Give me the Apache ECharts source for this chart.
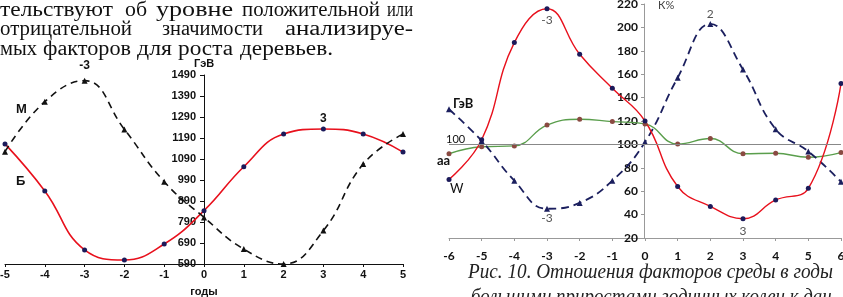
<!DOCTYPE html>
<html>
<head>
<meta charset="utf-8">
<script src="https://cdn.jsdelivr.net/npm/echarts@6/dist/echarts.min.js"></script>
<style>
html,body{margin:0;padding:0;background:#fff;}
#chart{width:843px;height:297px;}
</style>
</head>
<body>
<div id="chart"></div>
<script>
// левый график: Б и М, ГэВ
var yearsL = [-5, -4, -3, -2, -1, 0, 1, 2, 3, 4, 5];
var valB = [1162, 938, 657, 609, 685, 844, 1053, 1209, 1233, 1209, 1123];
var valM = [1125, 1363, 1463, 1231, 982, 812, 661, 590, 749, 1066, 1209];

// правый график: W, ГэВ, aa в К%
var yearsR = [-6, -5, -4, -3, -2, -1, 0, 1, 2, 3, 4, 5, 6];
var valW = [70, 104, 187, 216, 177, 148, 120, 64, 47, 36.5, 52.5, 62.5, 152];
var valGev = [130, 103, 69, 45, 50, 69, 102, 157, 203, 164, 113, 94, 68];
var valAa = [92, 98, 98.7, 116.5, 121.5, 119.5, 117.5, 100.3, 105, 92, 92.5, 89, 93];

// подписи экстремумов (индекс точки -> текст)
var peakB = {8: '3'};
var peakM = {2: '-3'};
var peakW = {3: '-3', 9: '3'};
var peakGev = {3: '-3', 8: '2'};

// текст страницы: слово, начало, конец (по строке)
var textLines = [
    [['тельствуют', 0, 113], ['об', 125, 147], ['уровне', 156, 233], ['положительной', 242, 380], ['или', 387, 413]],
    [['отрицательной', 0, 132], ['значимости', 162, 263], ['анализируе-', 285, 413]],
    [['мых', 0, 37], ['факторов', 43, 131], ['для', 137, 172], ['роста', 178, 233], ['деревьев.', 240, 333]]
];
var caption1 = 'Рис. 10. Отношения факторов среды в годы';
var caption2 = 'большими приростами годичных колец к дан-';

function pairs(xs, ys, peaks, lbl) {
    return xs.map(function (x, i) {
        var item = {value: [x, ys[i]]};
        if (peaks[i] !== undefined) {
            item.label = Object.assign({show: true, formatter: peaks[i]}, lbl[peaks[i]] || lbl.def);
        }
        return item;
    });
}

function plain(v) { return String(v); }

// подогнать ширину слова под скан
var measureCtx = document.createElement('canvas').getContext('2d');
function fitScale(text, font, width) {
    measureCtx.font = font;
    return width / measureCtx.measureText(text).width;
}

var chart = echarts.init(document.getElementById('chart'));

var boldL = {fontFamily: 'Liberation Sans', fontWeight: 'bold', fontSize: 11, color: '#111'};
var boldR = {fontFamily: 'Lato', fontWeight: 'bold', fontSize: 12, color: '#111'};
var grayLbl = {fontFamily: 'Lato', fontSize: 12, color: '#555'};

var bodyFont = '20px "Liberation Serif"';
var capFont = 'italic 21px "Liberation Serif"';

var graphics = [];
textLines.forEach(function (line, li) {
    line.forEach(function (w) {
        graphics.push({
            type: 'text', x: w[1], y: li * 19.2 + 1, scaleX: fitScale(w[0], bodyFont, w[2] - w[1]),
            style: {text: w[0], font: bodyFont, fill: '#111', verticalAlign: 'top'}
        });
    });
});
graphics.push({type: 'text', x: 468, y: 262, scaleX: fitScale(caption1, capFont, 365),
    style: {text: caption1, font: capFont, fill: '#222', verticalAlign: 'top'}});
graphics.push({type: 'text', x: 471, y: 287, scaleX: fitScale(caption2, capFont, 367),
    style: {text: caption2, font: capFont, fill: '#222', verticalAlign: 'top'}});
// подписи кривых
graphics.push({type: 'text', left: 16, top: 103, style: {text: 'М', font: 'bold 13px "Liberation Sans"', fill: '#111'}});
graphics.push({type: 'text', left: 16, top: 175, style: {text: 'Б', font: 'bold 13px "Liberation Sans"', fill: '#111'}});
graphics.push({type: 'text', left: 453, top: 97, style: {text: 'ГэВ', font: 'bold 13px Lato', fill: '#111'}});
graphics.push({type: 'text', left: 446, top: 134, style: {text: '100', font: '11px Lato', fill: '#111'}});
graphics.push({type: 'text', left: 437, top: 154, style: {text: 'aa', font: 'bold 13px Lato', fill: '#111'}});
graphics.push({type: 'text', left: 450, top: 182, style: {text: 'W', font: '13px Lato', fill: '#111'}});
graphics.push({type: 'text', left: 658, top: 0, style: {text: 'К%', font: '11px Lato', fill: '#444'}});

chart.setOption({
    animation: false,
    backgroundColor: '#fff',
    graphic: graphics,
    grid: [
        {left: 5, right: 440, top: 75, bottom: 33, outerBoundsMode: 'none', containLabel: false},
        {left: 449, right: 2, top: 4, bottom: 59, outerBoundsMode: 'none', containLabel: false}
    ],
    xAxis: [
        {
            gridIndex: 0, type: 'value', min: -5, max: 5, interval: 1,
            axisLine: {onZero: false, lineStyle: {color: '#111'}},
            axisTick: {show: true, length: 3, lineStyle: {color: '#111'}},
            axisLabel: Object.assign({margin: 5, formatter: plain}, boldL),
            splitLine: {show: false},
            name: 'годы', nameLocation: 'middle', nameGap: 22,
            nameTextStyle: boldL
        },
        {
            gridIndex: 1, type: 'value', min: -6, max: 6, interval: 1,
            axisLine: {onZero: false, lineStyle: {color: '#999'}},
            axisTick: {show: true, length: 3, lineStyle: {color: '#999'}},
            axisLabel: Object.assign({margin: 12, formatter: plain}, boldR),
            splitLine: {show: false}
        }
    ],
    yAxis: [
        {
            gridIndex: 0, type: 'value', min: 590, max: 1490, interval: 100,
            position: 'left', offset: -199,
            axisLine: {onZero: false, lineStyle: {color: '#111'}},
            axisTick: {show: true, length: 4, lineStyle: {color: '#111'}},
            axisLabel: Object.assign({margin: 8, formatter: plain}, boldL),
            splitLine: {show: false},
            name: 'ГэВ', nameLocation: 'end', nameGap: 3,
            nameTextStyle: Object.assign({align: 'left', padding: [0, 0, 0, -10]}, boldL)
        },
        {
            gridIndex: 1, type: 'value', min: 20, max: 220, interval: 20,
            position: 'left', offset: -195,
            axisLine: {onZero: false, lineStyle: {color: '#999'}},
            axisTick: {show: true, length: 3, lineStyle: {color: '#999'}},
            axisLabel: Object.assign({margin: 6, formatter: plain}, boldR),
            splitLine: {show: false}
        }
    ],
    series: [
        {
            name: 'Б', type: 'line', xAxisIndex: 0, yAxisIndex: 0, smooth: 0.45,
            data: pairs(yearsL, valB, peakB, {def: Object.assign({position: 'top', distance: 2}, boldL, {fontSize: 12})}),
            symbol: 'circle', symbolSize: 5,
            itemStyle: {color: '#1c1a5a'},
            lineStyle: {color: '#e8101c', width: 1.6}
        },
        {
            name: 'М', type: 'line', xAxisIndex: 0, yAxisIndex: 0, smooth: 0.45,
            data: pairs(yearsL, valM, peakM, {def: Object.assign({position: 'top', distance: 6}, boldL, {fontSize: 12})}),
            symbol: 'triangle', symbolSize: 6,
            itemStyle: {color: '#111'},
            lineStyle: {color: '#111', width: 1.6, type: [7, 5]}
        },
        {
            name: 'aa', type: 'line', xAxisIndex: 1, yAxisIndex: 1, smooth: 0.45,
            data: pairs(yearsR, valAa, {}, {}),
            symbol: 'circle', symbolSize: 5,
            itemStyle: {color: '#8a4a42'},
            lineStyle: {color: '#5a9e4c', width: 1.4},
            markLine: {
                silent: true, symbol: 'none', label: {show: false},
                lineStyle: {color: '#888', width: 1, type: 'solid'},
                data: [{yAxis: 100}]
            }
        },
        {
            name: 'ГэВ', type: 'line', xAxisIndex: 1, yAxisIndex: 1, smooth: 0.45,
            data: pairs(yearsR, valGev, peakGev, {
                '-3': Object.assign({position: 'bottom', distance: 0}, grayLbl),
                '2': Object.assign({position: 'top', distance: 1}, grayLbl)
            }),
            symbol: 'triangle', symbolSize: 6,
            itemStyle: {color: '#1b1f5e'},
            lineStyle: {color: '#1b1f5e', width: 1.8, type: [8, 5]}
        },
        {
            name: 'W', type: 'line', xAxisIndex: 1, yAxisIndex: 1, smooth: 0.45,
            data: pairs(yearsR, valW, peakW, {
                '-3': Object.assign({position: 'bottom', distance: 3}, grayLbl),
                '3': Object.assign({position: 'bottom', distance: 4}, grayLbl)
            }),
            symbol: 'circle', symbolSize: 5,
            itemStyle: {color: '#1c1a5a'},
            lineStyle: {color: '#e8101c', width: 1.4}
        }
    ]
});
</script>
</body>
</html>
